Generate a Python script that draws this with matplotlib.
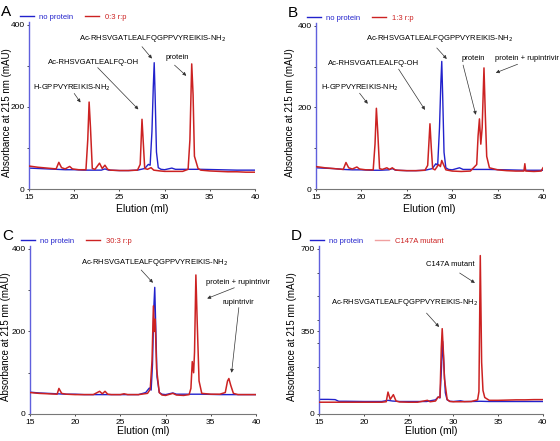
import matplotlib
matplotlib.use('Agg')
import matplotlib.pyplot as plt
from matplotlib.ticker import MultipleLocator

plt.rcParams['font.family'] = ['Liberation Sans', 'DejaVu Sans']

BLUE = '#2222cc'
RED = '#cc2222'

# elution volumes (ml) and absorbance (mAU)
# panel A
a_blue_x = [15, 16, 17, 18, 19, 20, 21, 22, 23, 23.4, 23.8, 25, 26, 27, 27.8, 28.2, 28.4, 28.6, 28.75, 28.85, 28.95, 29.1, 29.3, 29.6, 30, 30.8, 31.2, 32, 34, 36, 38, 40]
a_blue_y = [51, 50, 49, 48, 47, 47, 46, 46, 46, 49, 46, 45, 45, 46, 50, 60, 58, 140, 250, 308, 230, 90, 52, 48, 47, 51, 48, 48, 48, 47, 46, 46]
a_red_x = [15, 16, 17, 18, 18.3, 18.6, 19, 19.5, 19.8, 20.5, 21.3, 21.5, 21.65, 21.8, 22.0, 22.3, 22.8, 23.1, 23.4, 23.7, 24, 25, 26, 27, 27.3, 27.5, 27.65, 27.8, 28.1, 28.5, 28.8, 29.5, 30, 31, 32, 32.6, 32.8, 33.0, 33.15, 33.3, 33.5, 33.7, 34, 35, 36, 37, 38, 39, 40]
a_red_y = [56, 53, 51, 49, 65, 52, 49, 55, 49, 47, 47, 120, 212, 150, 50, 48, 63, 50, 58, 48, 46, 45, 45, 46, 60, 170, 110, 50, 48, 52, 46, 44, 43, 43, 43, 48, 120, 305, 230, 80, 65, 50, 46, 44, 43, 42, 42, 41, 41]

# panel B
b_blue_x = [15, 16, 17, 18, 19, 20, 21, 22, 23, 23.4, 23.8, 25, 26, 27, 27.8, 28.2, 28.4, 28.6, 28.75, 28.85, 28.95, 29.1, 29.3, 29.6, 30, 30.8, 31.2, 32, 34, 36, 38, 40]
b_blue_y = [52, 51, 50, 48, 47, 47, 46, 46, 47, 50, 46, 45, 45, 46, 50, 62, 58, 150, 260, 313, 230, 90, 52, 48, 47, 52, 48, 48, 48, 47, 46, 46]
b_red_x = [15, 16, 17, 18, 18.3, 18.6, 19, 19.5, 19.8, 20.5, 21.3, 21.5, 21.65, 21.8, 22.0, 22.3, 22.8, 23.1, 23.4, 23.7, 24, 25, 26, 27, 27.3, 27.55, 27.7, 27.85, 28.1, 28.5, 28.7, 28.85, 29.0, 29.3, 30, 31, 32, 32.7, 32.85, 33.0, 33.15, 33.3, 33.5, 33.65, 33.8, 34.1, 35, 36, 37, 37.9, 38.0, 38.1, 39, 39.8, 40]
b_red_y = [55, 52, 50, 48, 65, 52, 49, 54, 49, 47, 47, 110, 198, 140, 50, 48, 52, 48, 52, 47, 46, 45, 45, 46, 58, 160, 100, 50, 47, 60, 55, 70, 62, 47, 44, 43, 44, 60, 130, 172, 110, 150, 297, 180, 80, 52, 47, 45, 44, 44, 62, 44, 43, 44, 52]

# panel C
c_blue_x = [15, 16, 17, 18, 19, 20, 21, 22, 23, 25, 26, 27, 27.8, 28.2, 28.4, 28.55, 28.7, 28.8, 28.9, 29.05, 29.3, 29.6, 30, 30.8, 31.2, 32, 34, 36, 38, 40]
c_blue_y = [53, 51, 50, 49, 48, 48, 47, 47, 47, 47, 47, 47, 52, 63, 58, 120, 260, 307, 220, 90, 52, 48, 47, 51, 48, 48, 48, 47, 47, 47]
c_red_x = [15, 16, 17, 18, 18.2, 18.5, 19, 20, 21, 22, 22.7, 23.0, 23.3, 23.6, 24, 25, 25.4, 25.8, 27, 28, 28.3, 28.5, 28.65, 28.75, 28.85, 29.0, 29.3, 29.6, 30, 30.8, 31.2, 32, 32.6, 32.8, 32.95, 33.1, 33.2, 33.35, 33.5, 33.7, 34, 35, 36, 36.6, 36.85, 37.0, 37.2, 37.5, 38, 39, 40]
c_red_y = [52, 50, 49, 48, 62, 50, 48, 47, 47, 47, 55, 49, 55, 48, 47, 47, 49, 47, 47, 50, 60, 130, 262, 200, 230, 110, 52, 46, 45, 50, 46, 45, 47, 62, 127, 100, 150, 337, 220, 80, 50, 48, 48, 52, 80, 86, 70, 50, 47, 47, 47]

# panel D
d_blue_x = [15, 16, 16.8, 17.2, 18, 20, 22, 22.7, 23.2, 24, 26, 27, 28, 28.3, 28.5, 28.65, 28.8, 28.95, 29.1, 29.3, 29.6, 30, 30.8, 31.2, 32, 33, 34, 36, 38, 40]
d_blue_y = [62, 62, 61, 54, 54, 53, 53, 58, 55, 53, 53, 53, 60, 72, 68, 180, 308, 200, 90, 60, 54, 53, 56, 53, 53, 54, 53, 53, 53, 53]
d_red_x = [15, 16, 18, 20, 22, 22.5, 22.7, 22.95, 23.3, 23.6, 24, 25, 26, 27.1, 27.4, 28, 28.3, 28.5, 28.65, 28.75, 28.9, 29.0, 29.3, 29.6, 30, 31, 32, 32.7, 32.85, 33.0, 33.15, 33.3, 33.5, 34, 35, 36, 37, 38, 39, 40]
d_red_y = [50, 50, 50, 50, 50, 52, 93, 62, 82, 55, 51, 50, 50, 58, 52, 55, 72, 70, 280, 362, 250, 150, 62, 53, 52, 52, 53, 60, 95, 672, 220, 100, 70, 58, 58, 59, 60, 60, 61, 61]

legend_labels = [('no protein', '0:3 r:p'), ('no protein', '1:3 r:p'),
                 ('no protein', '30:3 r:p'), ('no protein', 'C147A mutant')]
panel_letters = ['A', 'B', 'C', 'D']
ymax = [400, 400, 400, 700]

PEP = 'Ac-RHSVGATLEALFQGPPVYREIKIS-NH$_2$'

# (text, text xy, arrow tail xy, arrow head xy)
notes = [
    [(PEP, (28.7, 366), (27.5, 347), (28.6, 318)),
     ('Ac-RHSVGATLEALFQ-OH', (22.1, 308), (22.6, 296), (27.1, 194)),
     ('H-GPPVYREIKIS-NH$_2$', (19.8, 247), (20.0, 233), (20.7, 211)),
     ('protein', (31.4, 320), (31.1, 302), (32.4, 276))],
    [(PEP, (28.65, 368), (28.3, 346), (29.4, 319)),
     ('Ac-RHSVGATLEALFQ-OH', (21.3, 309), (24.1, 294), (27.0, 194)),
     ('H-GPPVYREIKIS-NH$_2$', (19.8, 248), (19.8, 235), (20.7, 209)),
     ('protein', (32.3, 321), (31.2, 304), (32.6, 182)),
     ('protein + rupintrivir', (38.2, 321), (37.2, 306), (34.8, 285))],
    [(PEP, (28.8, 366), (27.3, 349), (28.6, 318)),
     ('protein + rupintrivir', (38.0, 318), (37.6, 306), (34.6, 280)),
     ('rupintrivir', (38.0, 270), (38.1, 258), (37.3, 100))],
    [('C147A mutant', (29.6, 636), (30.7, 598), (32.4, 556)),
     (PEP, (24.6, 475), (27.0, 428), (28.4, 369))],
]

traces = [(a_blue_x, a_blue_y, a_red_x, a_red_y),
          (b_blue_x, b_blue_y, b_red_x, b_red_y),
          (c_blue_x, c_blue_y, c_red_x, c_red_y),
          (d_blue_x, d_blue_y, d_red_x, d_red_y)]

# axes boxes in pixels: left, right, bottom, top
boxes = [(29, 255, 189, 22), (316, 543, 189, 23), (30, 256, 414, 246), (319, 543, 414, 246)]
xlab_gap = [15, 15, 12.5, 12.5]
ylab_gap = [22.5, 26, 23.5, 27]

W, H = 560, 441
fig = plt.figure(figsize=(W / 100, H / 100), dpi=100)

for i in range(4):
    l, r, b, t = boxes[i]
    ax = fig.add_axes([l / W, 1 - b / H, (r - l) / W, (b - t) / H])
    bx, by, rx, ry = traces[i]
    ax.plot(rx, ry, color=RED, lw=1.1, zorder=3)
    ax.plot(bx, by, color=BLUE, lw=1.0, zorder=2)
    ax.set_xlim(15, 40)
    ax.set_ylim(0, ymax[i] * 1.018)
    ax.set_xticks([15, 20, 25, 30, 35, 40])
    ax.set_yticks([0, ymax[i] // 2, ymax[i]])
    ax.yaxis.set_minor_locator(MultipleLocator(100))
    ax.tick_params(labelsize=6, length=1.5, width=0.5, pad=2)
    ax.tick_params(axis='y', pad=1.5)
    ax.tick_params(which='minor', length=1.2, width=0.5)
    ax.spines['top'].set_visible(False)
    ax.spines['right'].set_visible(False)
    ax.spines['left'].set_color('#6060dd')
    ax.spines['left'].set_linewidth(1.0)
    ax.spines['bottom'].set_color('#777777')
    ax.spines['bottom'].set_linewidth(0.8)
    ax.set_xlabel('Elution (ml)', fontsize=7.5)
    ax.xaxis.set_label_coords(0.5, -xlab_gap[i] / (b - t))
    ax.set_ylabel('Absorbance at 215 nm (mAU)', fontsize=7, rotation_mode='default', va='center', ha='center')
    ax.yaxis.set_label_coords(-ylab_gap[i] / (r - l), 0.46)

    for txt, txy, tail, head in notes[i]:
        ax.text(txy[0], txy[1], txt, fontsize=5.5, ha='center', va='center', clip_on=False)
        ax.annotate('', xy=head, xytext=tail,
                    arrowprops=dict(arrowstyle='-|>', lw=0.5, color='#333333',
                                    mutation_scale=5, shrinkA=0, shrinkB=0),
                    annotation_clip=False)

    # legend drawn above the axes
    h1, = ax.plot([], [], color=BLUE, lw=1.0)
    red_handle = '#f0a0a0' if i == 3 else RED
    h2, = ax.plot([], [], color=red_handle, lw=1.0)
    leg = ax.legend([h1, h2], legend_labels[i], ncol=2, frameon=False,
                    loc='lower left', bbox_to_anchor=((l - 9) / W, 1 - (t - 1) / H),
                    bbox_transform=fig.transFigure, fontsize=5.5,
                    handlelength=1.8, handletextpad=0.7, columnspacing=1.6,
                    borderpad=0, borderaxespad=0)
    leg.get_texts()[0].set_color(BLUE)
    leg.get_texts()[1].set_color(RED)

    fig.text((l - 28) / W, 1 - (t - 17) / H, panel_letters[i], fontsize=11, va='top', ha='left')

fig.savefig('out.png', dpi=100)
